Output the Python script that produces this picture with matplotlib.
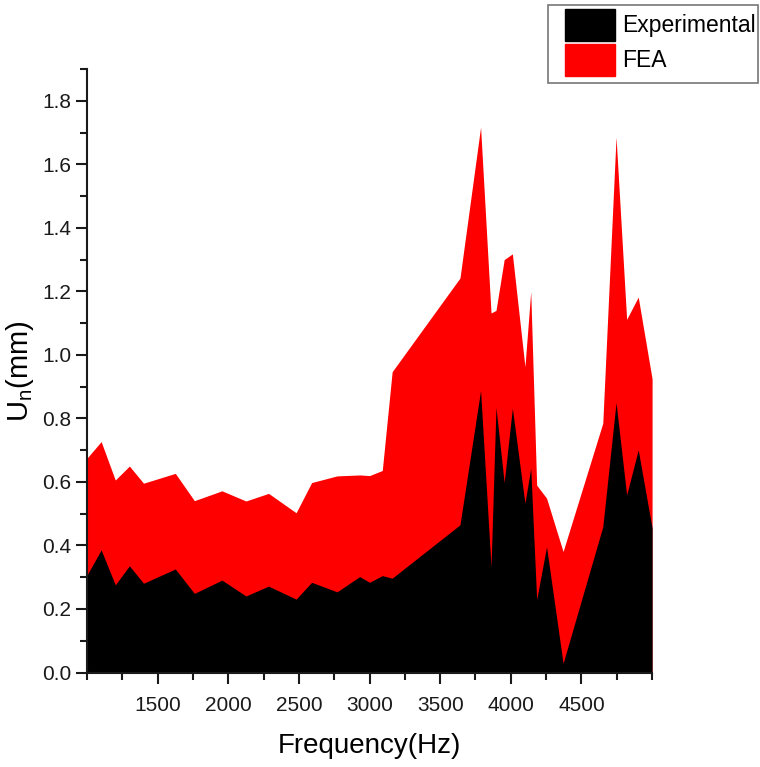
import matplotlib
matplotlib.use("Agg")
import matplotlib.pyplot as plt
from matplotlib.patches import Patch, Rectangle
from matplotlib.ticker import MultipleLocator, FormatStrFormatter

plt.rcParams["font.family"] = ["Liberation Sans Narrow", "Liberation Sans", "DejaVu Sans"]

# frequency points (Hz)
freq = [1000, 1100, 1200, 1300, 1400, 1625, 1760, 1955, 2125, 2285, 2480,
        2590, 2770, 2930, 3000, 3090, 3160, 3640, 3786, 3860, 3895, 3953,
        4011, 4100, 4141, 4183, 4253, 4370, 4651, 4745, 4820, 4902, 5000]

fea = [0.675, 0.727, 0.606, 0.650, 0.596, 0.627, 0.541, 0.572, 0.540, 0.564, 0.503,
       0.598, 0.619, 0.622, 0.620, 0.636, 0.947, 1.242, 1.717, 1.132, 1.140, 1.300,
       1.318, 0.963, 1.199, 0.590, 0.549, 0.381, 0.785, 1.686, 1.112, 1.182, 0.925]

experimental = [0.307, 0.386, 0.276, 0.336, 0.281, 0.326, 0.249, 0.291, 0.241, 0.272, 0.231,
                0.284, 0.254, 0.302, 0.284, 0.305, 0.297, 0.465, 0.888, 0.333, 0.835, 0.598,
                0.832, 0.533, 0.643, 0.230, 0.396, 0.029, 0.459, 0.850, 0.559, 0.701, 0.455]

W, H = 760, 767
fig = plt.figure(figsize=(W / 100, H / 100), dpi=100)
ax = fig.add_axes([0.1145, 0.1232, 0.7435, 0.7868])

ax.fill_between(freq, 0, fea, color="#ff0000", linewidth=0, zorder=1)
ax.fill_between(freq, 0, experimental, color="#000000", linewidth=0, zorder=2)

ax.set_xlim(1000, 5000)
ax.set_ylim(0, 1.9)

ax.xaxis.set_major_locator(MultipleLocator(500))
ax.xaxis.set_minor_locator(MultipleLocator(250))
ax.yaxis.set_major_locator(MultipleLocator(0.2))
ax.yaxis.set_minor_locator(MultipleLocator(0.1))
ax.yaxis.set_major_formatter(FormatStrFormatter("%.1f"))
ax.set_xticks([1500, 2000, 2500, 3000, 3500, 4000, 4500])

for s in ["top", "right"]:
    ax.spines[s].set_visible(False)
for s in ["left", "bottom"]:
    ax.spines[s].set_linewidth(1.5)
    ax.spines[s].set_color("#1a1a1a")

ax.tick_params(which="major", direction="out", length=8, width=1.5, labelsize=15, colors="#1a1a1a")
ax.tick_params(which="minor", direction="out", length=5, width=1.5, colors="#1a1a1a")
ax.tick_params(axis="x", which="major", pad=9)

ax.set_xlabel("Frequency(Hz)", fontsize=20, labelpad=13)
ax.set_ylabel("U$_\\mathregular{n}$(mm)", fontsize=21, labelpad=4)

# legend box drawn by hand, legend entries placed inside it
fig.add_artist(Rectangle((548 / W, 1 - 83 / H), 210 / W, 78 / H, transform=fig.transFigure,
                         facecolor="white", edgecolor="#777777", linewidth=1.2))
handles = [Patch(facecolor="black", edgecolor="black", label="Experimental"),
           Patch(facecolor="#ff0000", edgecolor="#ff0000", label="FEA")]
fig.legend(handles=handles, loc="upper left", bbox_to_anchor=(565 / W, 1 - 9 / H),
           fontsize=16.5, frameon=False, handlelength=2.2, handleheight=1.75,
           handletextpad=0.3, labelspacing=0.15, borderpad=0, borderaxespad=0)

fig.savefig("out.png", dpi=100)
